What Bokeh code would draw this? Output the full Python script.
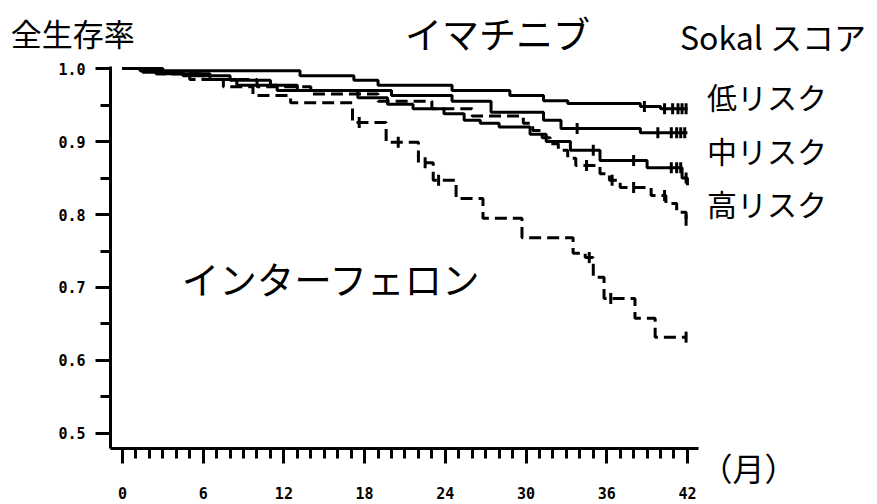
import math
from bokeh.plotting import figure
from bokeh.models import Range1d, Label, FixedTicker, PrintfTickFormatter
from bokeh.embed import file_html
from bokeh.resources import INLINE

# ---------------- data ----------------
months_ticks = [0, 6, 12, 18, 24, 30, 36, 42]
surv_ticks = [0.5, 0.6, 0.7, 0.8, 0.9, 1.0]

# Imatinib, Sokal low risk (solid)
ima_low_t = [0, 1.3, 13.2, 17.2, 19.0, 24.5, 28.8, 31.3, 33.1, 38.5, 40.0, 42.0]
ima_low_s = [1.0, 0.997, 0.99, 0.984, 0.977, 0.970, 0.963, 0.956, 0.952, 0.948, 0.945, 0.945]
ima_low_c = [38.8, 40.3, 40.9, 41.3, 41.6, 41.9]

# Imatinib, Sokal intermediate risk (solid)
ima_mid_t = [0, 1.5, 4.5, 8, 11, 13, 20, 24.5, 27.4, 31.3, 32.6, 38.5, 42.0]
ima_mid_s = [1.0, 0.995, 0.99, 0.984, 0.977, 0.97, 0.963, 0.955, 0.94, 0.929, 0.918, 0.912, 0.912]
ima_mid_c = [33.8, 39.8, 40.8, 41.2, 41.5, 41.8]

# Imatinib, Sokal high risk (solid)
ima_high_t = [0, 3, 6.5, 8.5, 11.5, 17.5, 19.7, 21.6, 23.9, 25.4, 26.6, 28, 30.3, 31.5, 33.3, 35.5, 39.0, 41.6, 42.0]
ima_high_s = [1.0, 0.993, 0.985, 0.977, 0.97, 0.96, 0.951, 0.945, 0.938, 0.929, 0.925, 0.92, 0.91, 0.9, 0.888, 0.874, 0.864, 0.85, 0.84]
ima_high_c = [35.0, 38.0, 40.8, 41.2, 41.5, 41.9]

# Interferon, upper dashed curve
ifn_a_t = [0, 2.5, 6, 10, 14, 19, 23, 26, 29.8, 30.5, 31.2, 31.8, 32.4, 33.1, 33.7, 35.5, 36.2, 37.0, 39.3, 40.4, 41.2, 41.9]
ifn_a_s = [1.0, 0.993, 0.985, 0.975, 0.965, 0.955, 0.945, 0.935, 0.925, 0.915, 0.905, 0.897, 0.888, 0.877, 0.867, 0.856, 0.847, 0.837, 0.826, 0.815, 0.803, 0.792]
ifn_a_c = [34.5, 36.4, 38.0, 40.3, 41.9]

# Interferon, lower dashed curve
ifn_b_t = [0, 2.5, 5, 7.5, 9.7, 12.5, 17.1, 19.6, 22.0, 23.1, 24.8, 26.8, 29.7, 33.5, 34.4, 35.0, 35.8, 38.1, 39.6, 41.9]
ifn_b_s = [1.0, 0.993, 0.985, 0.975, 0.963, 0.953, 0.926, 0.899, 0.871, 0.847, 0.822, 0.795, 0.768, 0.747, 0.741, 0.714, 0.685, 0.658, 0.632, 0.632]
ifn_b_c = [17.6, 20.5, 22.5, 23.5, 34.7, 36.3, 41.9]


def surv_at(times, surv, t):
    v = surv[0]
    for ti, si in zip(times, surv):
        if ti <= t:
            v = si
    return v


FONT_JP = "Noto Sans CJK JP"

X_LO, X_HI = -0.892, 42.82     # axis extents (months)
Y_LO, Y_HI = 0.4795, 1.0027    # axis extents (survival)

p = figure(width=877, height=504, output_backend="svg", toolbar_location=None,
           x_range=Range1d(-9.069, 56.13), y_range=Range1d(0.4027, 1.0932),
           min_border_left=0, min_border_right=0, min_border_top=0,
           min_border_bottom=0)
p.outline_line_color = None
p.grid.visible = False
p.background_fill_color = "white"
p.border_fill_color = "white"

curves = [
    (ima_low_t, ima_low_s, ima_low_c, "solid"),
    (ima_mid_t, ima_mid_s, ima_mid_c, "solid"),
    (ima_high_t, ima_high_s, ima_high_c, "solid"),
    (ifn_a_t, ifn_a_s, ifn_a_c, "12 6"),
    (ifn_b_t, ifn_b_s, ifn_b_c, "12 6"),
]
for t, s, c, dash in curves:
    p.step(x=t, y=s, mode="after", line_color="black", line_width=3,
           line_dash=dash)
    cy = [surv_at(t, s, ci) for ci in c]
    p.scatter(x=c, y=cy, marker="dash", size=11, angle=math.pi / 2,
              line_color="black", line_width=3)

# axes
for ax in (p.xaxis[0], p.yaxis[0]):
    ax.axis_line_width = 3
    ax.axis_line_color = "black"
    ax.major_tick_line_width = 3
    ax.minor_tick_line_width = 3
    ax.major_tick_in = 0
    ax.minor_tick_in = 0
    ax.major_tick_out = 15
    ax.minor_tick_out = 10
    ax.major_label_text_font = "DejaVu Sans Mono"
    ax.major_label_text_font_style = "bold"
    ax.major_label_text_font_size = "15px"
    ax.major_label_text_color = "black"

p.xaxis[0].fixed_location = Y_LO
p.xaxis[0].bounds = (X_LO, X_HI)
p.yaxis[0].fixed_location = X_LO
p.yaxis[0].bounds = (Y_LO, Y_HI)

p.xaxis[0].ticker = FixedTicker(ticks=months_ticks, minor_ticks=list(range(0, 43)))
p.yaxis[0].ticker = FixedTicker(ticks=surv_ticks,
                                minor_ticks=[0.55, 0.65, 0.75, 0.85, 0.95])
p.xaxis[0].major_label_standoff = 24
p.yaxis[0].major_label_standoff = 10
p.yaxis[0].formatter = PrintfTickFormatter(format="%.1f")


def add_label(x, y, text, size, align="left"):
    p.add_layout(Label(x=x, y=y, text=text, text_font=FONT_JP,
                       text_font_size=size, text_color="black",
                       text_align=align, text_baseline="middle"))


add_label(-8.3, 1.0493, "全生存率", "31px")
add_label(21.0, 1.048, "イマチニブ", "37px")
add_label(41.45, 1.045, "Sokal スコア", "32px")
add_label(43.45, 0.963, "低リスク", "30px")
add_label(43.45, 0.8877, "中リスク", "30px")
add_label(43.45, 0.8151, "高リスク", "30px")
add_label(4.4, 0.7137, "インターフェロン", "37.5px")
add_label(42.97, 0.4534, "（月）", "32px")

open("out.html", "w").write(file_html(p, INLINE))
